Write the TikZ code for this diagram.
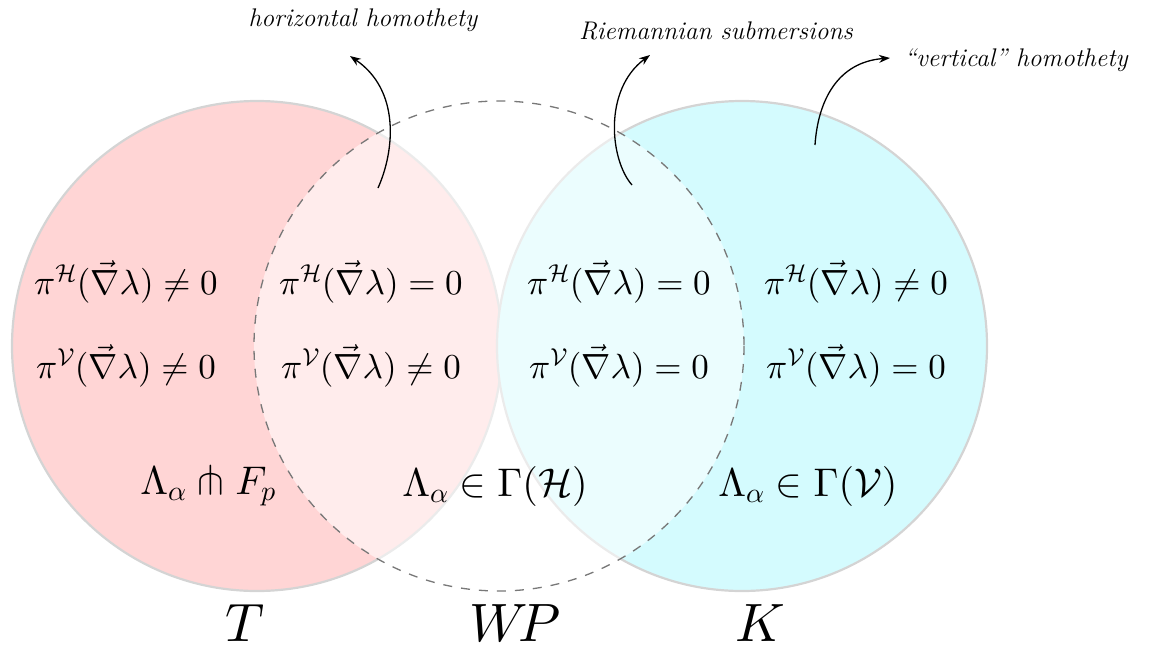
\documentclass[tikz,border=0pt]{standalone}
\usepackage{amsmath,amssymb}
\DeclareFontShape{OT1}{cmr}{m}{n}{<->cmr10}{}
\DeclareFontShape{OML}{cmm}{m}{it}{<->cmmi10}{}
\DeclareFontShape{OMS}{cmsy}{m}{n}{<->cmsy10}{}
\DeclareFontShape{OMX}{cmex}{m}{n}{<->cmex10}{}
\DeclareFontFamily{U}{msa}{}
\DeclareFontShape{U}{msa}{m}{n}{<->msam10}{}
\usetikzlibrary{arrows.meta}
\definecolor{pinkfill}{RGB}{255,213,213}
\definecolor{cyanfill}{RGB}{212,251,254}
\definecolor{rimgray}{RGB}{212,212,212}
\definecolor{dashgray}{RGB}{120,120,120}
\tikzset{
  setcircle/.style={line width=2.2pt, draw=rimgray},
  wpcircle/.style={line width=1.3pt, draw=dashgray, dash pattern=on 9pt off 9pt},
  mathlbl/.style={inner sep=0pt, font=\fontsize{35}{42}\selectfont},
  lamlbl/.style={inner sep=0pt, font=\fontsize{40}{48}\selectfont},
  setname/.style={inner sep=0pt, font=\fontsize{54}{60}\selectfont},
  notelbl/.style={inner sep=0pt, font=\fontsize{25.5}{30}\selectfont\itshape},
  notearrow/.style={line width=1.3pt, -{Stealth[length=11pt,width=8pt]}}
}
\begin{document}
\begin{tikzpicture}[x=1pt,y=-1pt]
\useasboundingbox (0,0) rectangle (1157,649);
% circles
\path[setcircle, fill=pinkfill] (257,346) circle[radius=245];
\path[setcircle, fill=cyanfill] (742,346) circle[radius=245];
\path[fill=white, fill opacity=0.55] (499,346) circle[radius=245];
\path[wpcircle] (499,346) circle[radius=245];
% region texts
\node[mathlbl] (t1) at (126,282) {$\pi^{\mathcal{H}}(\vec{\nabla}\lambda)\neq 0$};
\node[mathlbl] (t2) at (126,366) {$\pi^{\mathcal{V}}(\vec{\nabla}\lambda)\neq 0$};
\node[mathlbl] (w1) at (371,282) {$\pi^{\mathcal{H}}(\vec{\nabla}\lambda)= 0$};
\node[mathlbl] (w2) at (371,366) {$\pi^{\mathcal{V}}(\vec{\nabla}\lambda)\neq 0$};
\node[mathlbl] (r1) at (619,282) {$\pi^{\mathcal{H}}(\vec{\nabla}\lambda)= 0$};
\node[mathlbl] (r2) at (619,366) {$\pi^{\mathcal{V}}(\vec{\nabla}\lambda)= 0$};
\node[mathlbl] (k1) at (856,282) {$\pi^{\mathcal{H}}(\vec{\nabla}\lambda)\neq 0$};
\node[mathlbl] (k2) at (856,366) {$\pi^{\mathcal{V}}(\vec{\nabla}\lambda)= 0$};
\node[lamlbl] (tl) at (208,486) {$\Lambda_\alpha\pitchfork F_p$};
\node[lamlbl] (wl) at (495,486) {$\Lambda_\alpha\in\Gamma(\mathcal{H})$};
\node[lamlbl] (kl) at (808,486) {$\Lambda_\alpha\in\Gamma(\mathcal{V})$};
% set names
\node[setname] (T) at (245,623) {$T$};
\node[setname] (WP) at (515,623) {$W\!P$};
\node[setname] (K) at (760,623) {$K$};
% notes
\node[notelbl] (n1) at (363,20) {horizontal homothety};
\node[notelbl] (n2) at (716,31) {Riemannian submersions};
\node[notelbl] (n3) at (1016,60) {``vertical'' homothety};
\coordinate (a1s) at (378,188);
\coordinate (a1e) at (350,56);
\coordinate (a2s) at (632,185);
\coordinate (a2e) at (650,55);
\coordinate (a3s) at (815,145);
\coordinate (a3e) at (890,58);
\draw[notearrow] (a1s) .. controls (395,150) and (400,90) .. (a1e);
\draw[notearrow] (a2s) .. controls (610,160) and (603,90) .. (a2e);
\draw[notearrow] (a3s) .. controls (818,100) and (838,62) .. (a3e);
\end{tikzpicture}
\end{document}
